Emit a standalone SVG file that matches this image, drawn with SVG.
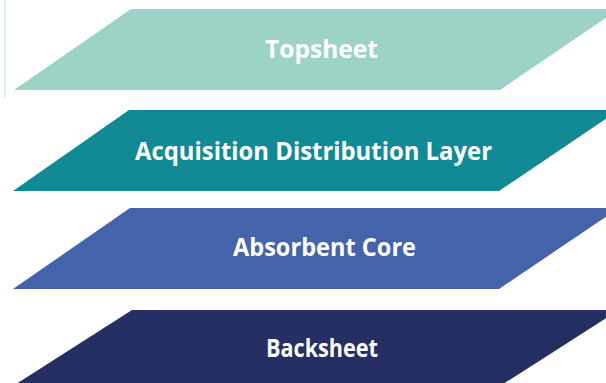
<svg xmlns="http://www.w3.org/2000/svg" width="606" height="383" viewBox="0 0 606 383">
<style>
.lbl{font-family:"Open Sans","Liberation Sans",sans-serif;font-weight:bold;font-size:25px;fill:#ffffff;text-anchor:middle}
</style>
<rect width="606" height="383" fill="#ffffff"/>
<line x1="5" y1="0" x2="5" y2="98" stroke="#d3f0ee" stroke-width="1.5"/>
<g id="connectors"></g>
<g id="topsheet">
<polygon points="131,9 619,9 500,90 14,90" fill="#9dd3c6"/>
<text class="lbl" x="321.5" y="58" textLength="113" lengthAdjust="spacingAndGlyphs">Topsheet</text>
</g>
<g id="adl">
<polygon points="129,110 619,110 499,191 13,191" fill="#128a95"/>
<text class="lbl" x="313.5" y="160" textLength="357" lengthAdjust="spacingAndGlyphs">Acquisition Distribution Layer</text>
</g>
<g id="core">
<polygon points="130,208 619,208 499,289 13,289" fill="#4563ab"/>
<text class="lbl" x="324.5" y="256" textLength="183" lengthAdjust="spacingAndGlyphs">Absorbent Core</text>
</g>
<g id="backsheet">
<polygon points="132,310 619,310 500,386 13,386" fill="#262f63"/>
<text class="lbl" x="322" y="357" textLength="112" lengthAdjust="spacingAndGlyphs">Backsheet</text>
</g>
</svg>
